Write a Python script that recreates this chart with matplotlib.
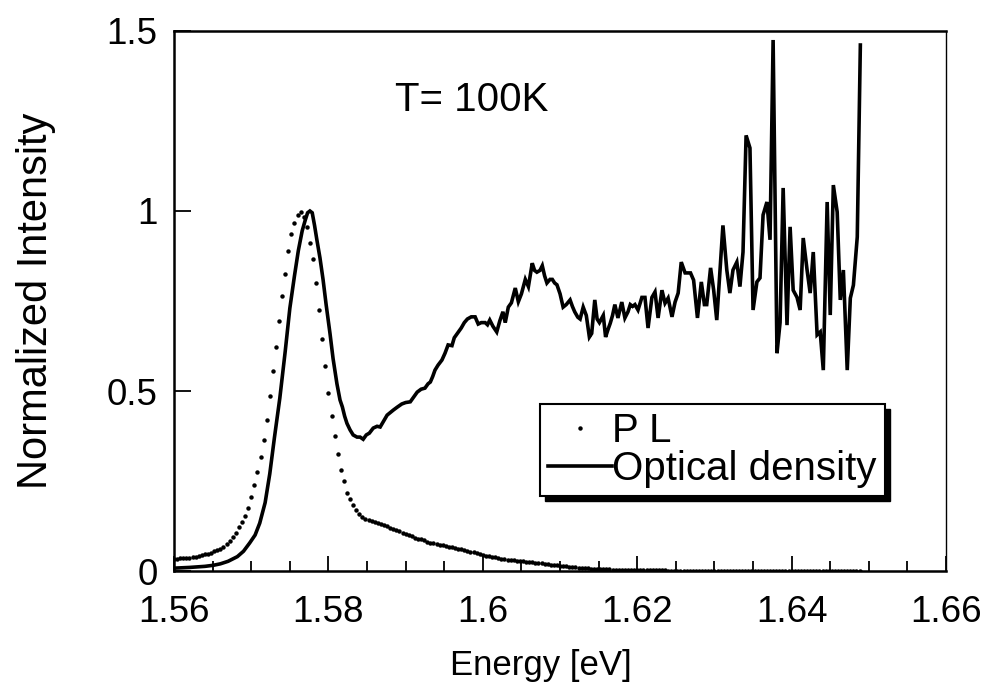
import numpy as np
import matplotlib
matplotlib.use("Agg")
import matplotlib.pyplot as plt
from matplotlib.patches import Rectangle
from matplotlib.ticker import MultipleLocator, FuncFormatter

plt.rcParams['font.family'] = ['Liberation Sans', 'DejaVu Sans']

# PL spectrum, sampled every 0.4 meV from 1.56 eV
pl_start = 1.56
pl_step = 0.0004
pl_intensity = [
    0.033, 0.034, 0.035, 0.035, 0.036, 0.037, 0.038, 0.040, 0.041, 0.044,
    0.046, 0.048, 0.051, 0.055, 0.058, 0.062, 0.067, 0.074, 0.083, 0.094,
    0.107, 0.121, 0.135, 0.153, 0.175, 0.205, 0.238, 0.275, 0.318, 0.365,
    0.420, 0.485, 0.555, 0.622, 0.695, 0.765, 0.825, 0.888, 0.935, 0.968,
    0.990, 0.998, 0.982, 0.955, 0.912, 0.868, 0.800, 0.725, 0.645, 0.570,
    0.495, 0.430, 0.375, 0.325, 0.280, 0.250, 0.218, 0.200, 0.184, 0.170,
    0.158, 0.150, 0.144, 0.141, 0.138, 0.135, 0.133, 0.130, 0.127, 0.124,
    0.120, 0.117, 0.113, 0.110, 0.106, 0.102, 0.099, 0.096, 0.093, 0.090,
    0.088, 0.085, 0.082, 0.079, 0.077, 0.075, 0.073, 0.071, 0.070, 0.068,
    0.066, 0.064, 0.062, 0.060, 0.058, 0.056, 0.054, 0.052, 0.050, 0.048,
    0.045, 0.043, 0.041, 0.040, 0.038, 0.036, 0.034, 0.033, 0.032, 0.031,
    0.030, 0.029, 0.028, 0.027, 0.026, 0.025, 0.024, 0.023, 0.022, 0.021,
    0.020, 0.019, 0.018, 0.017, 0.016, 0.015, 0.014, 0.013, 0.012, 0.011,
    0.010, 0.009, 0.009, 0.008, 0.008, 0.007, 0.007, 0.006, 0.006, 0.005,
    0.005, 0.005, 0.004, 0.004, 0.004, 0.003, 0.003, 0.003, 0.003, 0.002,
    0.002, 0.002, 0.002, 0.002, 0.002, 0.002, 0.002, 0.002, 0.002, 0.002,
    0.001, 0.001, 0.001, 0.001, 0.001, 0.001, 0.001, 0.001, 0.001, 0.001,
    0.001, 0.001, 0.001, 0.001, 0.001, 0.001, 0.001, 0.001, 0.001, 0.001,
    0.000, 0.000, 0.000, 0.000, 0.000, 0.000, 0.000, 0.000, 0.000, 0.000,
    0.000, 0.000, 0.000, 0.000, 0.000, 0.000, 0.000, 0.000, 0.000, 0.000,
    0.000, 0.000, 0.000, 0.000, 0.000, 0.000, 0.000, 0.000, 0.000, 0.000,
    0.000, 0.000, 0.000, 0.000, 0.000, 0.000, 0.000, 0.000, 0.000, 0.000,
    0.000, 0.000, 0.000,
]
pl_energy = pl_start + pl_step * np.arange(len(pl_intensity))

# Optical density
od_energy = [
    1.5600, 1.5620, 1.5640, 1.5651, 1.5660, 1.5670, 1.5682, 1.5690, 1.5698, 1.5705,
    1.5711, 1.5718, 1.5724, 1.5730, 1.5737, 1.5744, 1.5750, 1.5756, 1.5761, 1.5766,
    1.5770, 1.5773, 1.5776, 1.5779, 1.5782, 1.5785, 1.5789, 1.5793, 1.5797, 1.5802,
    1.5806, 1.5811, 1.5815, 1.5818, 1.5821, 1.5824, 1.5828, 1.5832, 1.5837, 1.5841,
    1.5845, 1.5849, 1.5853, 1.5858, 1.5863, 1.5867, 1.5872, 1.5876, 1.5880, 1.5884,
    1.5889, 1.5895, 1.5900, 1.5906, 1.5911, 1.5915, 1.5920, 1.5925, 1.5929, 1.5932,
    1.5935, 1.5938, 1.5942, 1.5947, 1.5951, 1.5955, 1.5960, 1.5963, 1.5967, 1.5972,
    1.5976, 1.5980, 1.5985, 1.5990, 1.5994, 1.5998, 1.6003, 1.6006, 1.6009, 1.6013,
    1.6018, 1.6022, 1.6026, 1.6029, 1.6033, 1.6037, 1.6042, 1.6046, 1.6050, 1.6055,
    1.6059, 1.6064, 1.6067, 1.6070, 1.6074, 1.6077, 1.6080, 1.6083, 1.6087, 1.6090,
    1.6093, 1.6096, 1.6100, 1.6104, 1.6108, 1.6113, 1.6116, 1.6119, 1.6123, 1.6126,
    1.6130, 1.6134, 1.6138, 1.6141, 1.6145, 1.6148, 1.6151, 1.6156, 1.6159, 1.6162,
    1.6165, 1.6168, 1.6171, 1.6175, 1.6180, 1.6184, 1.6188, 1.6191, 1.6194, 1.6197,
    1.6201, 1.6206, 1.6210, 1.6214, 1.6219, 1.6223, 1.6227, 1.6232, 1.6236, 1.6240,
    1.6245, 1.6249, 1.6253, 1.6257, 1.6262, 1.6269, 1.6273, 1.6278, 1.6283, 1.6287,
    1.6290, 1.6295, 1.6299, 1.6303, 1.6311, 1.6316, 1.6320, 1.6324, 1.6329, 1.6333,
    1.6337, 1.6341, 1.6346, 1.6350, 1.6355, 1.6359, 1.6363, 1.6368, 1.6372, 1.6376,
    1.6381, 1.6385, 1.6389, 1.6394, 1.6398, 1.6402, 1.6407, 1.6411, 1.6415, 1.6420,
    1.6424, 1.6428, 1.6433, 1.6437, 1.6441, 1.6446, 1.6450, 1.6454, 1.6459, 1.6463,
    1.6467, 1.6472, 1.6476, 1.6480, 1.6485, 1.6489,
]
od_intensity = [
    0.008, 0.010, 0.013, 0.016, 0.020, 0.027, 0.040, 0.055, 0.078, 0.100,
    0.133, 0.190, 0.270, 0.370, 0.480, 0.610, 0.730, 0.820, 0.890, 0.945,
    0.975, 0.995, 1.000, 0.995, 0.960, 0.920, 0.870, 0.810, 0.740, 0.660,
    0.590, 0.520, 0.475, 0.456, 0.430, 0.410, 0.392, 0.378, 0.372, 0.372,
    0.366, 0.378, 0.383, 0.397, 0.402, 0.400, 0.418, 0.433, 0.440, 0.447,
    0.455, 0.464, 0.468, 0.470, 0.485, 0.497, 0.505, 0.508, 0.520, 0.525,
    0.540, 0.558, 0.572, 0.586, 0.605, 0.628, 0.626, 0.648, 0.660, 0.675,
    0.690, 0.700, 0.706, 0.706, 0.686, 0.690, 0.690, 0.684, 0.697, 0.680,
    0.664, 0.695, 0.720, 0.690, 0.733, 0.745, 0.786, 0.748, 0.770, 0.810,
    0.790, 0.855, 0.835, 0.830, 0.835, 0.848, 0.820, 0.800, 0.810, 0.810,
    0.800, 0.795, 0.770, 0.733, 0.740, 0.753, 0.735, 0.720, 0.705, 0.700,
    0.733, 0.710, 0.650, 0.660, 0.753, 0.700, 0.690, 0.710, 0.650, 0.670,
    0.688, 0.710, 0.740, 0.703, 0.747, 0.703, 0.720, 0.740, 0.735, 0.740,
    0.725, 0.760, 0.760, 0.675, 0.760, 0.775, 0.703, 0.780, 0.744, 0.758,
    0.706, 0.747, 0.772, 0.858, 0.828, 0.828, 0.808, 0.703, 0.803, 0.740,
    0.740, 0.842, 0.780, 0.697, 0.960, 0.836, 0.772, 0.836, 0.858, 0.790,
    0.886, 1.210, 1.175, 0.725, 0.803, 0.814, 0.989, 1.025, 0.920, 1.475,
    0.605, 0.690, 1.064, 0.683, 0.956, 0.780, 0.760, 0.725, 0.925, 0.836,
    0.772, 0.886, 0.656, 0.664, 0.558, 1.025, 0.711, 1.072, 0.997, 0.753,
    0.836, 0.558, 0.758, 0.794, 0.928, 1.461,
]

fig = plt.figure(figsize=(9.9, 6.93), dpi=100)
ax = fig.add_axes([0.1758, 0.176, 0.7798, 0.7793])

ax.plot(pl_energy, pl_intensity, linestyle='none', marker='o', ms=3.2,
        mew=0, color='black', label='P L')
ax.plot(od_energy, od_intensity, color='black', lw=2.6,
        solid_joinstyle='miter', label='Optical density')

ax.set_xlim(1.56, 1.66)
ax.set_ylim(0, 1.5)

ax.xaxis.set_major_locator(MultipleLocator(0.02))
ax.xaxis.set_minor_locator(MultipleLocator(0.005))
ax.yaxis.set_major_locator(MultipleLocator(0.5))
ax.xaxis.set_major_formatter(FuncFormatter(lambda v, p: f"{v:g}"))
ax.yaxis.set_major_formatter(FuncFormatter(lambda v, p: f"{v:g}"))

ax.tick_params(axis='both', which='both', direction='in', top=False, right=False,
               labelsize=26.5, width=1.3)
ax.tick_params(axis='x', which='major', length=11, pad=17)
ax.tick_params(axis='x', which='minor', length=7)
ax.tick_params(axis='y', which='major', length=12, pad=12)

for side in ['left', 'bottom', 'top']:
    ax.spines[side].set_linewidth(1.8)
ax.spines['right'].set_linewidth(1.0)

ax.set_xlabel('Energy [eV]', fontsize=25)
ax.set_ylabel('Normalized Intensity', fontsize=30)
ax.xaxis.set_label_coords(0.475, -0.145)
ax.yaxis.set_label_coords(-0.153, 0.5)

ax.text(1.5886, 1.308, 'T= 100K', fontsize=29, va='center', ha='left')

leg = ax.legend(loc='upper left', bbox_to_anchor=(0.474, 0.309), borderaxespad=0,
                fontsize=29, frameon=True, fancybox=False, edgecolor='black',
                handlelength=1.6, handletextpad=0.0,
                borderpad=0.2, labelspacing=0.0, markerscale=1.0, numpoints=1)
leg.get_frame().set_linewidth(1.5)
leg.get_frame().set_alpha(None)
leg.get_frame().set_facecolor('white')

# black drop shadow under the legend box
fig.canvas.draw()
bb = leg.get_window_extent().transformed(ax.transAxes.inverted())
dx = 5 / (ax.bbox.width)
dy = 5 / (ax.bbox.height)
shadow = Rectangle((bb.x0 + dx, bb.y0 - dy), bb.width, bb.height,
                   transform=ax.transAxes, facecolor='black', edgecolor='black',
                   clip_on=False, zorder=4.9)
ax.add_patch(shadow)

fig.savefig('out.png', dpi=100)
